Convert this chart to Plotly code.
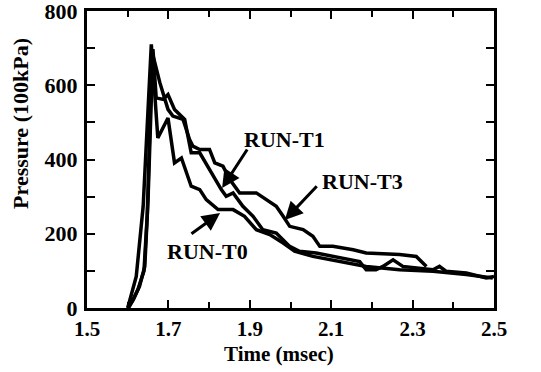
import plotly.graph_objects as go

# RUN-T0 (lowest in the middle region)
t0_x = [1.600, 1.609, 1.621, 1.638, 1.650, 1.658, 1.674, 1.699, 1.715, 1.732, 1.756, 1.777, 1.793,
        1.822, 1.859, 1.887, 1.916, 1.949, 1.982, 2.010, 2.055, 2.096, 2.145, 2.186, 2.268, 2.350,
        2.432, 2.497]
t0_y = [0, 40, 85, 274, 562, 710, 458, 512, 391, 404, 328, 319, 292,
        265, 265, 247, 211, 198, 175, 153, 139, 130, 121, 112, 103, 99,
        90, 81]

# RUN-T1 (middle)
t1_x = [1.602, 1.615, 1.629, 1.642, 1.650, 1.656, 1.662, 1.670, 1.687, 1.699, 1.715, 1.740, 1.756,
        1.777, 1.805, 1.830, 1.842, 1.859, 1.883, 1.908, 1.932, 1.965, 1.998, 2.022, 2.063, 2.120,
        2.170, 2.186, 2.210, 2.227, 2.252, 2.276, 2.350, 2.366, 2.382, 2.432, 2.481, 2.500]
t1_y = [0, 25, 58, 112, 292, 500, 697, 566, 562, 575, 535, 508, 418,
        418, 364, 319, 301, 310, 274, 247, 211, 202, 166, 153, 148, 135,
        125, 103, 103, 112, 130, 112, 103, 112, 99, 94, 81, 85]

# RUN-T3 (highest)
t3_x = [1.600, 1.612, 1.625, 1.640, 1.648, 1.655, 1.660, 1.679, 1.699, 1.711, 1.736, 1.752, 1.760,
        1.777, 1.801, 1.814, 1.834, 1.851, 1.875, 1.916, 1.940, 1.965, 1.982, 1.998, 2.031, 2.055,
        2.072, 2.104, 2.154, 2.186, 2.268, 2.309, 2.334]
t3_y = [0, 20, 50, 100, 250, 480, 690, 607, 535, 517, 508, 454, 436,
        427, 427, 391, 382, 346, 310, 310, 292, 274, 247, 220, 211, 193,
        166, 166, 157, 148, 144, 139, 112]

x_ticks = [1.5, 1.7, 1.9, 2.1, 2.3, 2.5]
y_ticks = [0, 200, 400, 600, 800]

ann_font = dict(family="Liberation Serif", size=22, color="black")

fig = go.Figure()
for xs, ys, name in [(t0_x, t0_y, "RUN-T0"), (t1_x, t1_y, "RUN-T1"), (t3_x, t3_y, "RUN-T3")]:
    fig.add_trace(go.Scatter(x=xs, y=ys, mode="lines", name=name,
                             line=dict(color="black", width=3.5)))

annots = [
    ("<b>RUN-T1</b>", 1.986, 453, 1.896, 431, 1.832, 323),
    ("<b>RUN-T3</b>", 2.176, 340, 2.068, 332, 1.986, 237),
    ("<b>RUN-T0</b>", 1.795, 151, 1.753, 197, 1.827, 256),
]
for text, tx, ty, ax0, ay0, hx, hy in annots:
    fig.add_annotation(x=tx, y=ty, text=text, showarrow=False, font=ann_font)
    fig.add_annotation(x=hx, y=hy, ax=ax0, ay=ay0, axref="x", ayref="y", xref="x", yref="y",
                       text="", showarrow=True, arrowhead=2, arrowsize=1.2, arrowwidth=3,
                       arrowcolor="black", standoff=0)

# axis titles
fig.add_annotation(x=-0.162, y=0.62, xref="paper", yref="paper", text="<b>Pressure (100kPa)</b>",
                   textangle=-90, showarrow=False, xanchor="center", yanchor="middle",
                   font=dict(family="Liberation Serif", size=22, color="black"))
fig.add_annotation(x=0.472, y=-0.155, xref="paper", yref="paper", text="<b>Time (msec)</b>",
                   showarrow=False, xanchor="center", yanchor="middle",
                   font=dict(family="Liberation Serif", size=21, color="black"))

tick_font = dict(family="Liberation Serif", size=21, color="black")
fig.update_layout(
    width=541, height=372,
    margin=dict(l=87, r=47, t=11, b=64, autoexpand=False),
    paper_bgcolor="white", plot_bgcolor="white",
    showlegend=False,
    xaxis=dict(range=[1.5, 2.5], tickvals=x_ticks,
               ticktext=[f"<b>{v}</b>" for v in x_ticks],
               ticks="inside", ticklen=8, tickwidth=2, tickcolor="black",
               minor=dict(tickvals=[1.6, 1.8, 2.0, 2.2, 2.4], ticks="inside", ticklen=6, tickwidth=2, tickcolor="black"),
               showline=True, linewidth=3, linecolor="black", mirror="ticks",
               showgrid=False, zeroline=False, tickfont=tick_font, automargin=False,
               ticklabeloverflow="allow"),
    yaxis=dict(range=[0, 800], tickvals=y_ticks,
               ticktext=[f"<b>{v}</b>" for v in y_ticks],
               ticks="inside", ticklen=8, tickwidth=2, tickcolor="black",
               minor=dict(tickvals=[100, 300, 500, 700], ticks="inside", ticklen=8, tickwidth=2, tickcolor="black"),
               showline=True, linewidth=3, linecolor="black", mirror="ticks",
               showgrid=False, zeroline=False, tickfont=dict(family="Liberation Serif", size=22, color="black"),
               automargin=False, ticklabeloverflow="allow", ticklabelstandoff=2),
)

fig.write_html("out.html")
